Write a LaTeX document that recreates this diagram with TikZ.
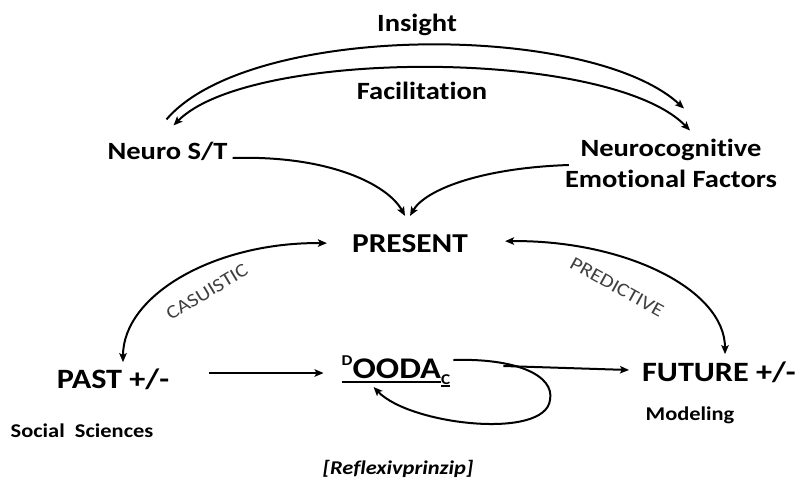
\documentclass[tikz,border=0pt]{standalone}
\usepackage{fontspec}
\setmainfont{Carlito}[FakeStretch=1.15, Ligatures=NoCommon]
\usetikzlibrary{arrows.meta}
\definecolor{labelgray}{HTML}{404040}
% thick rule under a piece of text, #1 = drop below the baseline
\newcommand{\barunder}[2]{\setbox0\hbox{#2}\rlap{\raisebox{-#1}{\rule{\wd0}{1.8pt}}}\box0}
% small raised / lowered letters of the OODA mark
\newcommand{\supletter}[1]{\raisebox{13pt}{\fontsize{15}{15}\selectfont #1}}
\newcommand{\subletter}[1]{\raisebox{-6pt}{\fontsize{15}{15}\selectfont\barunder{3pt}{#1}}}
\tikzset{
  mid/.style={font=\bfseries\fontsize{24.8}{31}\selectfont, inner sep=0pt},
  big/.style={font=\bfseries\fontsize{28}{34}\selectfont, inner sep=0pt},
  small/.style={font=\bfseries\fontsize{19.5}{24}\selectfont, inner sep=0pt},
  arclabel/.style={font=\fontsize{19}{22}\selectfont, text=labelgray, inner sep=0pt},
  conn/.style={line width=2pt, -{Stealth[length=9pt,width=7.5pt,inset=2pt]}},
  twoway/.style={line width=2pt, {Stealth[length=9pt,width=7.5pt,inset=2pt]}-{Stealth[length=9pt,width=7.5pt,inset=2pt]}}
}
\begin{document}
\begin{tikzpicture}[x=1pt,y=-1pt]
\useasboundingbox (0,0) rectangle (797,493);

% labels
\node[mid, anchor=base] (insight) at (417,31) {Insight};
\node[mid, anchor=base] (facil) at (422,99) {Facilitation};
\node[mid, anchor=base] (neuro) at (167.5,159) {Neuro S/T};
\node[mid, align=center] (neurocog) at (671,163) {Neurocognitive\\Emotional Factors};
\node[big, anchor=base, font=\bfseries\fontsize{27.3}{33}\selectfont] (present) at (410,252) {PRESENT};
\node[big, anchor=base] (past) at (113,388) {PAST +/-};
\node[big, anchor=base] (future) at (719,381) {FUTURE +/-};
\node[big, anchor=base, font=\bfseries\fontsize{30}{34}\selectfont] (dooda) at (396,378)
  {\barunder{5pt}{\supletter{D}OODA}\subletter{C}};
\node[small, anchor=base] (social) at (82,437) {Social\ \ Sciences};
\node[small, anchor=base] (modeling) at (690,420) {Modeling};
\node[small, anchor=base, font=\bfseries\itshape\fontsize{19.5}{24}\selectfont] (reflex) at (398,474) {[Reflexivprinzip]};
\node[arclabel, rotate=31] (casu) at (207,292) {CASUISTIC};
\node[arclabel, rotate=-29] (pred) at (617,287) {PREDICTIVE};

% Insight / Facilitation loop between the two upper sources
\draw[conn] ([xshift=-1pt,yshift=22pt]neuro.north)
  .. controls (250,22) and (590,22) .. ([xshift=13pt,yshift=30pt]neurocog.north);
\draw[twoway] ([xshift=19pt,yshift=8pt]neurocog.north)
  .. controls (610,48) and (250,48) .. ([xshift=6pt,yshift=16pt]neuro.north);

% both sources feed the present
\draw[conn] ([xshift=5pt,yshift=1pt]neuro.base east)
  .. controls (330,155) and (388,185) .. ([xshift=-5pt,yshift=18pt]present.north);
\draw[conn] ([xshift=4pt,yshift=-2pt]neurocog.west)
  .. controls (480,168) and (425,190) .. ([xshift=0pt,yshift=18pt]present.north);

% casuistic and predictive arcs
\draw[twoway] ([xshift=-25pt]present.west)
  .. controls (215,242) and (123,295) .. ([xshift=10pt,yshift=6pt]past.north);
\draw[twoway] ([xshift=37pt,yshift=2pt]present.east)
  .. controls (626,240) and (725,290) .. ([xshift=6pt,yshift=7pt]future.north);

% lower row
\draw[conn] ([xshift=40pt,yshift=15pt]past.base east) -- ([xshift=-18pt,yshift=5pt]dooda.base west);
\draw[conn] ([xshift=53pt,yshift=12pt]dooda.base east) -- ([xshift=-13pt,yshift=11pt]future.base west);
\draw[conn] ([xshift=3pt,yshift=18pt]dooda.base east)
  .. controls (515,358) and (555,375) .. (550,400)
  .. controls (545,440) and (410,425) .. ([xshift=32pt,yshift=-9pt]dooda.base west);
\end{tikzpicture}
\end{document}
